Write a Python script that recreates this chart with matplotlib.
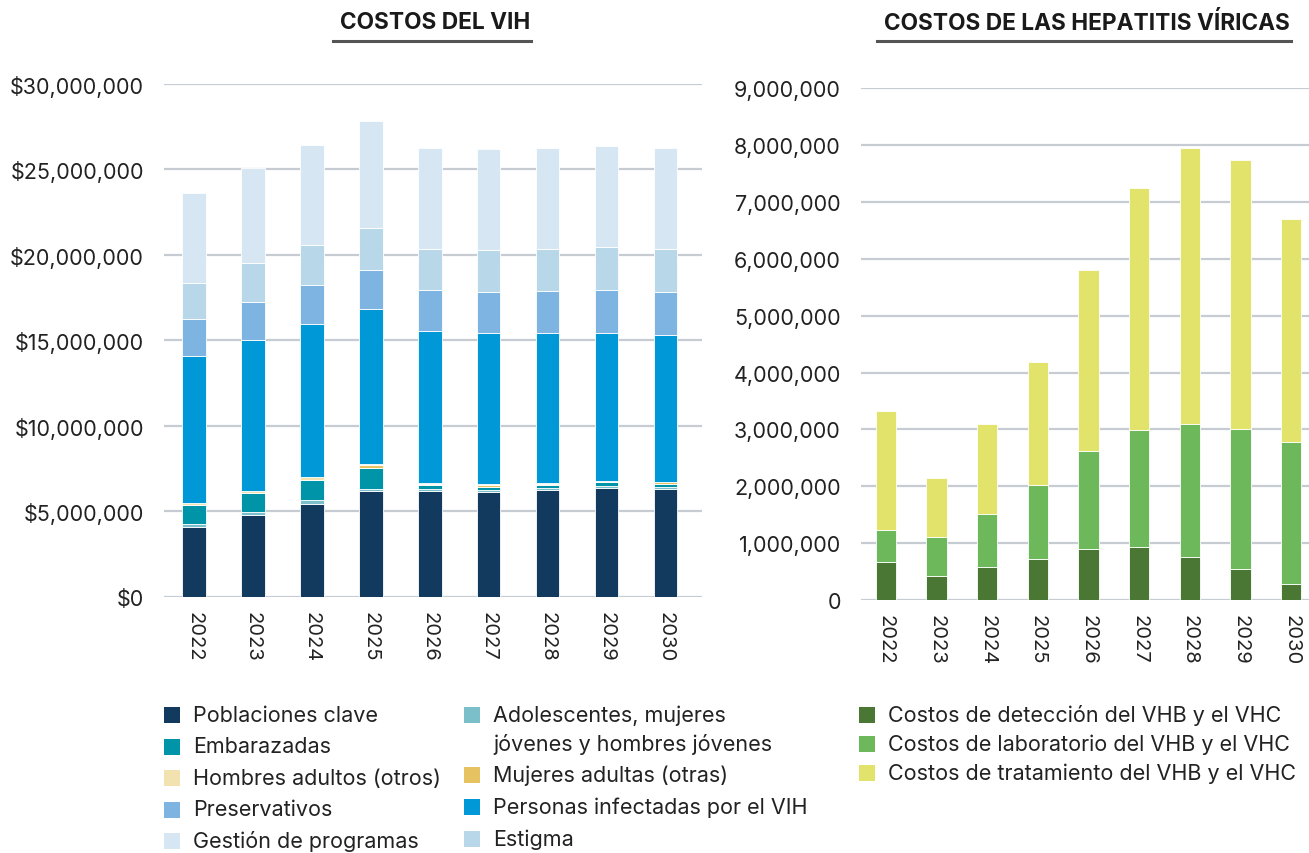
import matplotlib
matplotlib.use("Agg")
import matplotlib.pyplot as plt
from matplotlib.patches import Rectangle
from matplotlib.lines import Line2D
from matplotlib.ticker import FuncFormatter, MultipleLocator
import numpy as np

plt.rcParams['font.family'] = ['Inter', 'DejaVu Sans']
plt.rcParams['text.color'] = '#222222'

years = ['2022', '2023', '2024', '2025', '2026', '2027', '2028', '2029', '2030']

# --- HIV costs (USD millions), stacked bottom to top
poblaciones_clave = [4.10, 4.79, 5.43, 6.17, 6.17, 6.11, 6.25, 6.37, 6.31]
adolescentes = [0.16, 0.15, 0.22, 0.14, 0.14, 0.14, 0.12, 0.13, 0.13]
embarazadas = [1.09, 1.12, 1.15, 1.23, 0.25, 0.19, 0.19, 0.20, 0.18]
mujeres_adultas = [0.02, 0.02, 0.05, 0.15, 0.05, 0.12, 0.03, 0.02, 0.07]
hombres_adultos = [0.14, 0.11, 0.16, 0.10, 0.05, 0.02, 0.07, 0.06, 0.05]
personas_vih = [8.55, 8.81, 8.92, 9.02, 8.90, 8.85, 8.77, 8.65, 8.55]
preservativos = [2.17, 2.25, 2.31, 2.29, 2.37, 2.40, 2.46, 2.50, 2.54]
estigma = [2.15, 2.26, 2.32, 2.46, 2.40, 2.44, 2.44, 2.52, 2.50]
gestion = [5.25, 5.55, 5.88, 6.25, 5.92, 5.92, 5.94, 5.93, 5.94]

# --- viral hepatitis costs (millions), stacked bottom to top
deteccion = [0.66, 0.42, 0.58, 0.72, 0.90, 0.92, 0.76, 0.54, 0.28]
laboratorio = [0.57, 0.68, 0.93, 1.30, 1.71, 2.06, 2.34, 2.46, 2.50]
tratamiento = [2.09, 1.04, 1.58, 2.16, 3.19, 4.27, 4.86, 4.74, 3.92]

hiv_series = [
    (poblaciones_clave, 'Poblaciones clave', '#123a5e'),
    (adolescentes, 'Adolescentes, mujeres\njóvenes y hombres jóvenes', '#7bbfcb'),
    (embarazadas, 'Embarazadas', '#0094a8'),
    (mujeres_adultas, 'Mujeres adultas (otras)', '#e6c260'),
    (hombres_adultos, 'Hombres adultos (otros)', '#f2e2b0'),
    (personas_vih, 'Personas infectadas por el VIH', '#0098d6'),
    (preservativos, 'Preservativos', '#7db4e2'),
    (estigma, 'Estigma', '#b8d7e8'),
    (gestion, 'Gestión de programas', '#d6e7f3'),
]
hep_series = [
    (deteccion, 'Costos de detección del VHB y el VHC', '#4a7734'),
    (laboratorio, 'Costos de laboratorio del VHB y el VHC', '#6cb85a'),
    (tratamiento, 'Costos de tratamiento del VHB y el VHC', '#e2e36a'),
]

W, H = 1309, 854
fig = plt.figure(figsize=(W / 100, H / 100), dpi=100)
ax1 = fig.add_axes([0.1253, 0.3001, 0.411, 0.6004])
ax2 = fig.add_axes([0.6577, 0.2966, 0.3423, 0.5986])

x = np.arange(len(years))


def stack(ax, series, scale):
    bottom = np.zeros(len(years))
    for vals, label, color in series:
        v = np.array(vals) * scale
        ax.bar(x, v, 0.40, bottom=bottom, color=color, label=label,
               edgecolor='white', linewidth=0.6, zorder=3)
        bottom += v


def style(ax, top, step, fmt):
    ax.set_ylim(0, top)
    ax.yaxis.set_major_locator(MultipleLocator(step))
    ax.yaxis.set_major_formatter(FuncFormatter(fmt))
    ax.grid(axis='y', color='#c6ccd2', linewidth=1.6, zorder=0)
    for s in ax.spines.values():
        s.set_visible(False)
    ax.set_xticks(x)
    ax.set_xticklabels(years, rotation=-90, fontsize=14.5, color='#222222')
    ax.tick_params(axis='both', length=0)
    ax.tick_params(axis='y', pad=14.5, labelsize=15.5, labelcolor='#222222')
    ax.tick_params(axis='x', pad=10)


stack(ax1, hiv_series, 1e6)
style(ax1, 30e6, 5e6, lambda v, p: '${:,.0f}'.format(v))
ax1.set_xlim(-0.51, 8.62)

stack(ax2, hep_series, 1e6)
style(ax2, 9e6, 1e6, lambda v, p: '{:,.0f}'.format(v))
ax2.set_xlim(-0.49, 8.35)

# titles with underline
titles = [(ax1, 'COSTOS DEL VIH'), (ax2, 'COSTOS DE LAS HEPATITIS VÍRICAS')]
fig.canvas.draw()
renderer = fig.canvas.get_renderer()
for ax, title in titles:
    pos = ax.get_position()
    t = fig.text((pos.x0 + pos.x1) / 2 + 2 / W, 1 - 23 / H, title, ha='center', va='center',
                 fontsize=16.3, fontweight='bold', color='#1a1a1a')
    bb = t.get_window_extent(renderer).transformed(fig.transFigure.inverted())
    fig.add_artist(Line2D([bb.x0 - 7 / W, bb.x1 + 1 / W], [1 - 42 / H] * 2,
                          transform=fig.transFigure, color='#555555', linewidth=2.2))


# legends drawn as square + text, positions in pixels from top-left
def legend_item(px, py, label, color, line_gap=29):
    fig.add_artist(Rectangle((px / W, 1 - (py + 8) / H), 16 / W, 16 / H,
                             transform=fig.transFigure, facecolor=color, edgecolor='none'))
    for i, line in enumerate(label.split('\n')):
        fig.text((px + 29) / W, 1 - (py + i * line_gap) / H, line, ha='left',
                 va='center', fontsize=15.5, color='#222222')


colors = {label: color for _, label, color in hiv_series}
col1 = ['Poblaciones clave', 'Embarazadas', 'Hombres adultos (otros)', 'Preservativos',
        'Gestión de programas']
col2 = ['Adolescentes, mujeres\njóvenes y hombres jóvenes', 'Mujeres adultas (otras)',
        'Personas infectadas por el VIH', 'Estigma']
for label, py in zip(col1, [716, 747.5, 779, 810.5, 842]):
    legend_item(164, py, label, colors[label])
for label, py in zip(col2, [716, 776, 808, 840]):
    legend_item(464, py, label, colors[label])
for (_, label, color), py in zip(hep_series, [716, 745, 774]):
    legend_item(859, py, label, color)

fig.savefig('out.png', dpi=100)
